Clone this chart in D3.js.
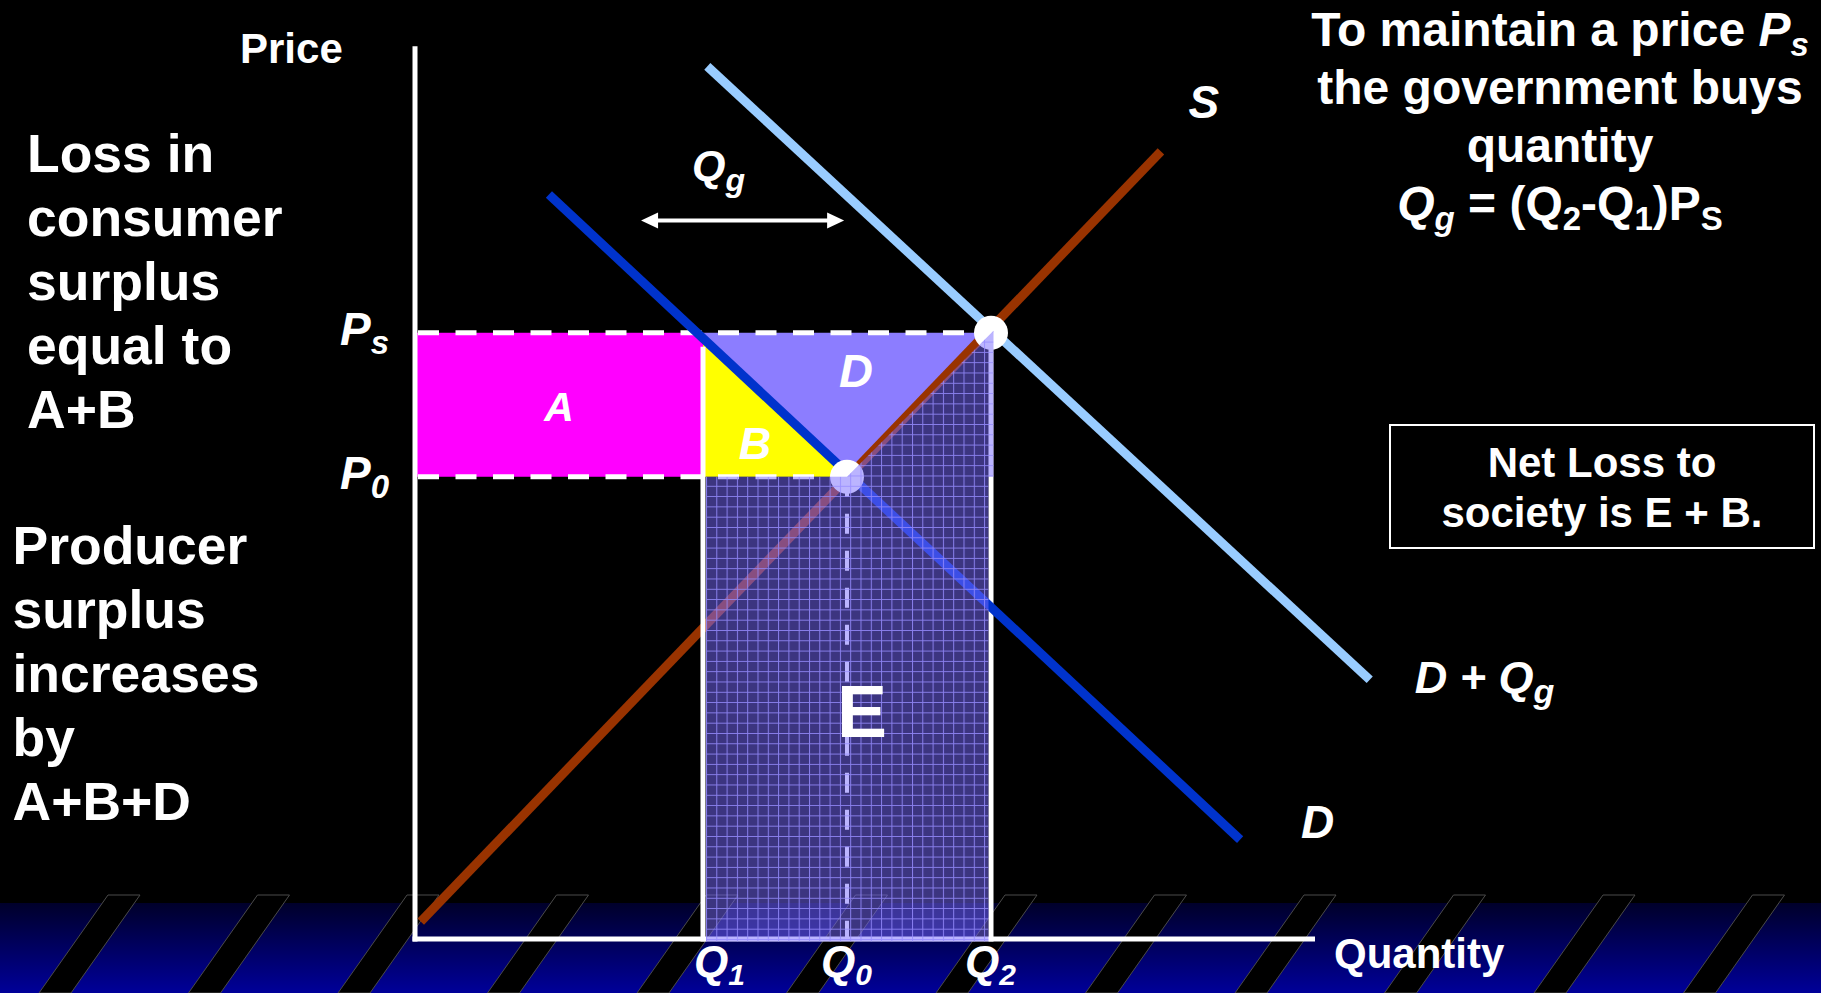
<!DOCTYPE html>
<html lang="en">
<head>
<meta charset="UTF-8">
<title>Price support through government purchases</title>
<style>
  body { margin: 0; padding: 0; background: #000; overflow: hidden; }
  svg { display: block; }
  text { font-family: "Liberation Sans", Arial, sans-serif; font-weight: bold; fill: #fff; }
</style>
</head>
<body>
<svg id="chart"></svg>
<script src="https://d3js.org/d3.v7.min.js"></script>
<script>
// quantities on the horizontal axis: Q1, Q0, Q2
const qSubs = ["1", "0", "2"];
const qValues = [2.0, 3.0, 4.0];
// prices on the vertical axis: Ps, P0
const pSubs = ["s", "0"];
const pValues = [4.21, 3.21];
// curve end points as [quantity, price]
const supply = [[0.04, 0.12], [5.18, 5.47]];
const demand = [[0.93, 5.17], [5.73, 0.69]];
const demandPlusQg = [[2.03, 6.06], [6.63, 1.80]];
// the Qg double arrow
const qgSpan = [1.57, 2.98];
const qgPrice = 4.99;

const leftTop = ["Loss in", "consumer", "surplus", "equal to", "A+B"];
const leftBottom = ["Producer", "surplus", "increases", "by", "A+B+D"];
const rightNote = [
    [{ t: "To maintain a price " }, { t: "P", it: 1 }, { t: "s", it: 1, sub: 1 }],
    [{ t: "the government buys" }],
    [{ t: "quantity" }],
    [{ t: "Q", it: 1 }, { t: "g", it: 1, sub: 1 }, { t: " = (Q" }, { t: "2", sub: 1 },
     { t: "-Q" }, { t: "1", sub: 1 }, { t: ")P" }, { t: "S", sub: 1 }]
];
const boxNote = ["Net Loss to", "society is E + B."];

const width = 1821, height = 993;
const svg = d3.select("#chart").attr("width", width).attr("height", height);

const x = d3.scaleLinear().domain([0, 6.25]).range([415, 1315]);
const y = d3.scaleLinear().domain([0, 6.2]).range([939, 46.2]);

const [Q1, Q0, Q2] = qValues;
const [Ps, P0] = pValues;

// text with italic parts and subscripts
function richText(g, px, py, parts, opt) {
    const t = g.append("text")
        .attr("x", px).attr("y", py)
        .attr("font-size", opt.size)
        .attr("text-anchor", opt.anchor || "start");
    let shift = 0;
    parts.forEach(p => {
        const s = t.append("tspan").text(p.t);
        const want = p.sub ? opt.subShift : 0;
        if (want !== shift) { s.attr("dy", want - shift); shift = want; }
        if (p.sub) s.attr("font-size", opt.subSize);
        if (p.it) s.attr("font-style", "italic");
    });
    return t;
}

const defs = svg.append("defs");
const band = defs.append("linearGradient").attr("id", "band")
    .attr("x1", 0).attr("y1", 0).attr("x2", 0).attr("y2", 1);
band.append("stop").attr("offset", 0).attr("stop-color", "#00002a");
band.append("stop").attr("offset", 1).attr("stop-color", "#000099");

const cell = 10.3;
const grid = defs.append("pattern").attr("id", "grid")
    .attr("patternUnits", "userSpaceOnUse")
    .attr("x", x(Q1) + 3).attr("y", y(0))
    .attr("width", cell).attr("height", cell);
grid.append("rect").attr("width", cell).attr("height", cell)
    .attr("fill", "rgb(120,105,255)").attr("fill-opacity", 0.5);
grid.append("path").attr("d", `M0,0.5H${cell}M0.5,0V${cell}`)
    .attr("stroke", "rgb(150,140,255)").attr("stroke-opacity", 0.85)
    .attr("stroke-width", 1).attr("fill", "none");

// background and striped bottom band
svg.append("rect").attr("width", width).attr("height", height).attr("fill", "#000");
svg.append("rect").attr("y", 903).attr("width", width).attr("height", height - 903)
    .attr("fill", "url(#band)");
svg.append("g").selectAll("polygon")
    .data(d3.range(12).map(k => 108 + 149.5 * k))
    .join("polygon")
    .attr("points", x0 => [[x0, 895], [x0 + 32, 895], [x0 - 37, 993], [x0 - 69, 993]].join(" "))
    .attr("fill", "#000").attr("stroke", "#4a4a4a").attr("stroke-width", 1);

// surplus areas
svg.append("rect")
    .attr("x", x(0)).attr("y", y(Ps))
    .attr("width", x(Q1) - x(0)).attr("height", y(P0) - y(Ps))
    .attr("fill", "#ff00ff");
svg.append("polygon")
    .attr("points", [[x(Q1), y(Ps)], [x(Q1), y(P0)], [x(Q0), y(P0)]].join(" "))
    .attr("fill", "#ffff00");
svg.append("polygon")
    .attr("points", [[x(Q1), y(Ps)], [x(Q2), y(Ps)], [x(Q0), y(P0)]].join(" "))
    .attr("fill", "#8c7dff");

// axes
svg.append("line")
    .attr("x1", x(0)).attr("x2", x(0)).attr("y1", y(6.2)).attr("y2", y(0) + 2.5)
    .attr("stroke", "#fff").attr("stroke-width", 5);
svg.append("line")
    .attr("x1", x(0) - 2.5).attr("x2", x(6.25)).attr("y1", y(0)).attr("y2", y(0))
    .attr("stroke", "#fff").attr("stroke-width", 5);

// dashed guides
svg.append("line")
    .attr("x1", x(0) + 3).attr("x2", x(Q2)).attr("y1", y(Ps)).attr("y2", y(Ps))
    .attr("stroke", "#fff").attr("stroke-width", 5).attr("stroke-dasharray", "21 16.5");
svg.append("line")
    .attr("x1", x(0) + 3).attr("x2", x(Q0)).attr("y1", y(P0)).attr("y2", y(P0))
    .attr("stroke", "#fff").attr("stroke-width", 5).attr("stroke-dasharray", "21 16.5");
svg.append("line")
    .attr("x1", x(Q0)).attr("x2", x(Q0)).attr("y1", y(P0)).attr("y2", y(0))
    .attr("stroke", "#fff").attr("stroke-width", 4).attr("stroke-dasharray", "20 17");

// Q2 vertical beneath the purchase area
svg.append("line")
    .attr("x1", x(Q2)).attr("x2", x(Q2)).attr("y1", y(Ps)).attr("y2", y(0) + 2.5)
    .attr("stroke", "#fff").attr("stroke-width", 5);

// curves
const line = d3.line().x(d => x(d[0])).y(d => y(d[1]));
[[supply, "#993300"], [demand, "#0033cc"], [demandPlusQg, "#99ccff"]].forEach(([pts, c]) => {
    svg.append("path").attr("d", line(pts))
        .attr("fill", "none").attr("stroke", c).attr("stroke-width", 9);
});

// equilibrium points
svg.append("g").selectAll("circle")
    .data([[Q0, P0], [Q2, Ps]])
    .join("circle")
    .attr("cx", d => x(d[0])).attr("cy", d => y(d[1])).attr("r", 17)
    .attr("fill", "#fff");

// government purchase area E
svg.append("polygon")
    .attr("points", [
        [x(Q1) + 3, y(0) + 2.5], [x(Q1) + 3, y(P0)], [x(Q0), y(P0)],
        [x(Q2) + 2.5, y(Ps) - 2], [x(Q2) + 2.5, y(P0)], [x(Q2) - 2.5, y(P0)],
        [x(Q2) - 2.5, y(0) + 2.5]
    ].join(" "))
    .attr("fill", "url(#grid)");

// Q1 vertical
svg.append("line")
    .attr("x1", x(Q1)).attr("x2", x(Q1)).attr("y1", y(Ps) + 14).attr("y2", y(0) + 2.5)
    .attr("stroke", "#fff").attr("stroke-width", 5);

// Qg arrow
const ax0 = x(qgSpan[0]), ax1 = x(qgSpan[1]), ay = y(qgPrice);
svg.append("line")
    .attr("x1", ax0 + 12).attr("x2", ax1 - 12).attr("y1", ay).attr("y2", ay)
    .attr("stroke", "#fff").attr("stroke-width", 4);
svg.append("polygon").attr("fill", "#fff")
    .attr("points", [[ax0, ay], [ax0 + 17, ay - 8], [ax0 + 17, ay + 8]].join(" "));
svg.append("polygon").attr("fill", "#fff")
    .attr("points", [[ax1, ay], [ax1 - 17, ay - 8], [ax1 - 17, ay + 8]].join(" "));

const labels = svg.append("g");

// axis titles
labels.append("text").attr("x", 240).attr("y", 63).attr("font-size", 42).text("Price");
labels.append("text").attr("x", 1334).attr("y", 968).attr("font-size", 42).text("Quantity");

// quantity and price marks
const qOffsets = [-9, -26, -26];
qValues.forEach((q, i) => {
    richText(labels, x(q) + qOffsets[i], 977,
        [{ t: "Q", it: 1 }, { t: qSubs[i], it: 1, sub: 1 }],
        { size: 44, subSize: 30, subShift: 8 });
});
pValues.forEach((p, i) => {
    richText(labels, 340, y(p) + 12,
        [{ t: "P", it: 1 }, { t: pSubs[i], it: 1, sub: 1 }],
        { size: 46, subSize: 33, subShift: 9 });
});

// curve names
labels.append("text").attr("x", x(supply[1][0]) + 43).attr("y", y(supply[1][1]) - 33)
    .attr("font-size", 46).attr("font-style", "italic").attr("text-anchor", "middle").text("S");
richText(labels, x(demandPlusQg[1][0]) + 45, y(demandPlusQg[1][1]) + 13,
    [{ t: "D + Q", it: 1 }, { t: "g", it: 1, sub: 1 }],
    { size: 45, subSize: 34, subShift: 10 });
labels.append("text").attr("x", x(demand[1][0]) + 61).attr("y", y(demand[1][1]) - 2)
    .attr("font-size", 46).attr("font-style", "italic").text("D");
richText(labels, ax0 + 51, ay - 40,
    [{ t: "Q", it: 1 }, { t: "g", it: 1, sub: 1 }],
    { size: 43, subSize: 32, subShift: 11 });

// area letters
labels.append("text").attr("x", x(Q1 / 2)).attr("y", y((Ps + P0) / 2) + 16)
    .attr("font-size", 41).attr("font-style", "italic").attr("text-anchor", "middle").text("A");
labels.append("text").attr("x", (x(Q1) + x(Q0)) / 2 - 20).attr("y", y(P0) - 18)
    .attr("font-size", 45).attr("font-style", "italic").attr("text-anchor", "middle").text("B");
labels.append("text").attr("x", x(Q0) + 9).attr("y", y(Ps) + 54)
    .attr("font-size", 47).attr("font-style", "italic").attr("text-anchor", "middle").text("D");
labels.append("text").attr("x", x(Q0) + 15).attr("y", 737)
    .attr("font-size", 75).attr("text-anchor", "middle").text("E");

// side notes
leftTop.forEach((s, i) => {
    labels.append("text").attr("x", 27).attr("y", 172 + 64 * i).attr("font-size", 53.5).text(s);
});
leftBottom.forEach((s, i) => {
    labels.append("text").attr("x", 12.5).attr("y", 564 + 64 * i).attr("font-size", 53.5).text(s);
});
rightNote.forEach((parts, i) => {
    richText(labels, 1560, 46 + 58 * i, parts,
        { size: 48, subSize: 33, subShift: 10, anchor: "middle" });
});

svg.append("rect")
    .attr("x", 1390).attr("y", 425).attr("width", 424).attr("height", 123)
    .attr("fill", "none").attr("stroke", "#fff").attr("stroke-width", 2);
boxNote.forEach((s, i) => {
    labels.append("text").attr("x", 1602).attr("y", 477 + 50 * i)
        .attr("font-size", 42).attr("text-anchor", "middle").text(s);
});
</script>
</body>
</html>
